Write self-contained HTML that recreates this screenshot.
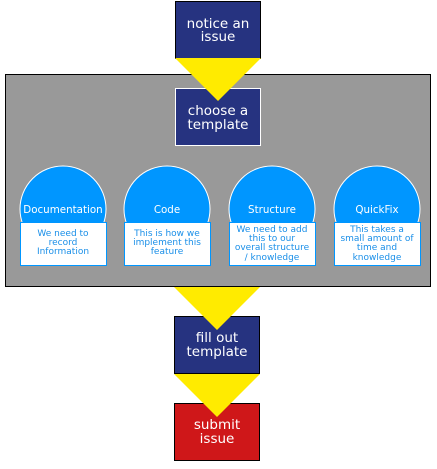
<!DOCTYPE html>
<html><head><style>
html,body{margin:0;padding:0;background:#fff;}
svg text{font-family:"DejaVu Sans","Liberation Sans",sans-serif;}
</style></head><body>
<svg width="437" height="464" xmlns="http://www.w3.org/2000/svg">
<rect x="5.5" y="74.5" width="425" height="212" fill="#999" stroke="#000" stroke-width="1"/>
<rect x="175.5" y="1.5" width="85" height="57" fill="#263380" stroke="#000"/>
<text x="218" y="28" fill="#fff" font-size="13.5" text-anchor="middle">notice an</text>
<text x="218" y="41" fill="#fff" font-size="13.5" text-anchor="middle">issue</text>
<rect x="175.5" y="88.5" width="85" height="57" fill="#263380" stroke="#fff"/>
<polygon points="175,58 261,58 218,101" fill="#ffeb00"/>
<text x="218" y="115" fill="#fff" font-size="13.5" text-anchor="middle">choose a</text>
<text x="218" y="129" fill="#fff" font-size="13.5" text-anchor="middle">template</text>

<g font-size="9" fill="#1a8fe8" text-anchor="middle">
<g>
<circle cx="63" cy="209" r="43" fill="#0096ff" stroke="#fff"/>
<rect x="20.5" y="222.5" width="86" height="43" fill="#fff" stroke="#0096ff"/>
<text x="63" y="213" fill="#fff" font-size="10.3">Documentation</text>
<text x="63" y="236">We need to</text><text x="63" y="245">record</text><text x="63" y="254">Information</text>
</g>
<g>
<circle cx="167" cy="209" r="43" fill="#0096ff" stroke="#fff"/>
<rect x="124.5" y="222.5" width="86" height="43" fill="#fff" stroke="#0096ff"/>
<text x="167" y="213" fill="#fff" font-size="10.3">Code</text>
<text x="167" y="236">This is how we</text><text x="167" y="245">implement this</text><text x="167" y="254">feature</text>
</g>
<g>
<circle cx="272" cy="209" r="43" fill="#0096ff" stroke="#fff"/>
<rect x="229.5" y="222.5" width="86" height="43" fill="#fff" stroke="#0096ff"/>
<text x="272" y="213" fill="#fff" font-size="10.3">Structure</text>
<text x="272" y="232">We need to add</text><text x="272" y="241">this to our</text><text x="272" y="250">overall structure</text><text x="272" y="260">/ knowledge</text>
</g>
<g>
<circle cx="377" cy="209" r="43" fill="#0096ff" stroke="#fff"/>
<rect x="334.5" y="222.5" width="86" height="43" fill="#fff" stroke="#0096ff"/>
<text x="377" y="213" fill="#fff" font-size="10.3">QuickFix</text>
<text x="377" y="232">This takes a</text><text x="377" y="241">small amount of</text><text x="377" y="250">time and</text><text x="377" y="260">knowledge</text>
</g>
</g>

<rect x="174.5" y="316.5" width="85" height="57" fill="#263380" stroke="#000"/>
<polygon points="174,287 260,287 217,330" fill="#ffeb00"/>
<text x="217" y="342" fill="#fff" font-size="13.5" text-anchor="middle">fill out</text>
<text x="217" y="356" fill="#fff" font-size="13.5" text-anchor="middle">template</text>
<rect x="174.5" y="403.5" width="85" height="57" fill="#cf1719" stroke="#000"/>
<polygon points="174,374 260,374 217,417" fill="#ffeb00"/>
<text x="217" y="429" fill="#fff" font-size="13.5" text-anchor="middle">submit</text>
<text x="217" y="443" fill="#fff" font-size="13.5" text-anchor="middle">issue</text>
</svg>
</body></html>
